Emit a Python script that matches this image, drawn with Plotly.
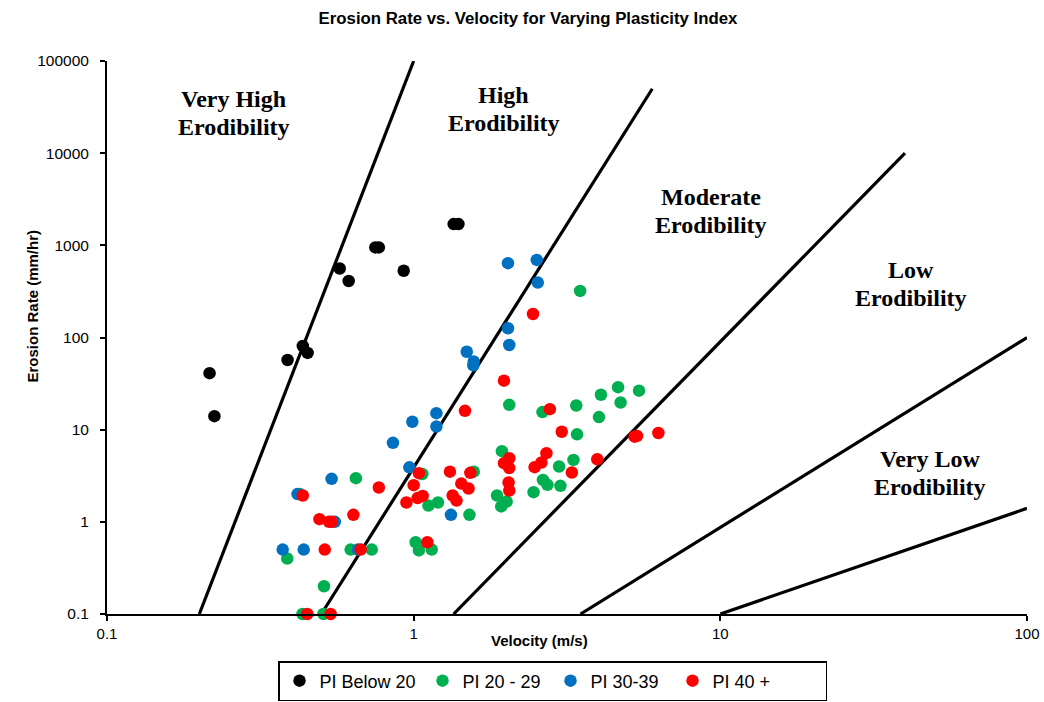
import plotly.graph_objects as go
import math

# ---------------- data ----------------
pi_below20_v = [0.216, 0.224, 0.388, 0.435, 0.451, 0.574, 0.614, 0.928, 0.75, 0.77, 1.35, 1.40]
pi_below20_e = [41, 14, 57, 81, 68, 560, 410, 530, 950, 950, 1700, 1700]

pi_20_29_v = [1.067, 1.57, 0.648, 0.426, 1.117, 1.2, 1.52, 0.387, 0.623, 0.73, 1.015, 1.04,
              1.145, 0.51, 0.434, 0.508, 3.49, 2.05, 2.63, 3.39, 4.08, 4.64, 5.43, 4.73,
              4.02, 3.41, 1.94, 2.98, 3.32, 2.64, 2.73, 3.01, 2.46, 1.87, 1.93, 2.01]
pi_20_29_e = [3.3, 3.5, 2.98, 2.0, 1.5, 1.62, 1.19, 0.40, 0.5, 0.5, 0.6, 0.49,
              0.5, 0.2, 0.1, 0.1, 320, 18.6, 15.5, 18.3, 23.9, 28.9, 26.5, 19.7,
              13.7, 8.9, 5.85, 3.98, 4.7, 2.85, 2.52, 2.46, 2.1, 1.93, 1.47, 1.66]

pi_30_39_v = [1.186, 0.99, 1.186, 0.856, 0.968, 0.54, 0.418, 0.553, 0.374, 0.438, 0.658,
              1.323, 2.05, 1.49, 1.57, 1.565, 2.03, 2.52, 2.54, 2.03]
pi_30_39_e = [15.1, 12.2, 10.8, 7.2, 3.9, 2.93, 2.0, 1.0, 0.5, 0.5, 0.5,
              1.19, 83, 70, 55, 50, 640, 695, 394, 126]

pi_40_v = [1.47, 1.04, 1.313, 1.53, 1.0, 1.43, 1.51, 0.435, 0.77, 0.947, 1.03, 1.07, 1.34,
           1.38, 0.493, 0.541, 0.53, 0.636, 0.513, 0.672, 1.108, 0.45, 0.536, 1.97, 2.78,
           3.04, 5.25, 5.35, 6.28, 2.05, 1.97, 2.05, 2.71, 2.61, 2.48, 3.97, 3.28, 2.04,
           2.05, 2.45]
pi_40_e = [16, 3.37, 3.5, 3.4, 2.5, 2.6, 2.3, 1.93, 2.36, 1.62, 1.81, 1.91, 1.93,
           1.7, 1.07, 1.0, 1.0, 1.19, 0.5, 0.5, 0.6, 0.1, 0.1, 34, 16.7,
           9.5, 8.4, 8.55, 9.2, 4.9, 4.33, 3.83, 5.56, 4.4, 3.92, 4.78, 3.43, 2.67,
           2.19, 180]

series_names = ["PI Below 20", "PI 20 - 29", "PI 30-39", "PI 40 +"]

# erodibility boundary lines: (v_start, e_start) -> (v_end, e_end)
boundary_v0 = [0.2, 0.5, 1.35, 3.5, 10]
boundary_e0 = [0.1, 0.1, 0.1, 0.1, 0.1]
boundary_v1 = [1.0, 6.0, 40, 100, 100]
boundary_e1 = [100000, 50000, 10000, 100, 1.4]

zone_labels = ["Very High<br>Erodibility", "High<br>Erodibility", "Moderate<br>Erodibility",
               "Low<br>Erodibility", "Very Low<br>Erodibility"]
zone_label_v = [0.259, 1.97, 9.3, 41.8, 48.1]
zone_label_e = [27300, 30100, 2360, 381, 3.4]

x_tick_vals = [0.1, 1, 10, 100]
x_tick_text = ["0.1", "1", "10", "100"]
y_tick_vals = [0.1, 1, 10, 100, 1000, 10000, 100000]
y_tick_text = ["0.1", "1", "10", "100", "1000", "10000", "100000"]

# ---------------- styles ----------------
series_colors = ["#000000", "#00B050", "#0070C0", "#FF0000"]
legend_entry_widths = [98, 83, 77, 108]

series_v = [pi_below20_v, pi_20_29_v, pi_30_39_v, pi_40_v]
series_e = [pi_below20_e, pi_20_29_e, pi_30_39_e, pi_40_e]

fig = go.Figure()

for i in range(len(boundary_v0)):
    fig.add_trace(go.Scatter(
        x=[boundary_v0[i], boundary_v1[i]], y=[boundary_e0[i], boundary_e1[i]],
        mode="lines", line=dict(color="black", width=3.2),
        showlegend=False, hoverinfo="skip", cliponaxis=False))

for name, xs, ys, col, lw in zip(series_names, series_v, series_e, series_colors,
                                  legend_entry_widths):
    fig.add_trace(go.Scatter(
        x=xs, y=ys, mode="markers", name=name, legendwidth=lw,
        marker=dict(color=col, size=12.5, line=dict(width=0)),
        cliponaxis=False))

LINE_SPACING = 28
for txt, vx, ey in zip(zone_labels, zone_label_v, zone_label_e):
    lines = txt.split("<br>")
    n = len(lines)
    for k, ln in enumerate(lines):
        fig.add_annotation(x=math.log10(vx), y=math.log10(ey), xref="x", yref="y",
                           text="<b>" + ln + "</b>", showarrow=False,
                           yshift=((n - 1) / 2 - k) * LINE_SPACING,
                           font=dict(family="Liberation Serif", size=24, color="black"))

fig.add_annotation(x=(539 - 107) / 920, y=(614 - 651) / 553, xref="paper", yref="paper",
                   text="<b>Velocity (m/s)</b>", showarrow=False,
                   font=dict(family="Liberation Sans", size=15, color="black"))
fig.add_annotation(x=(21 - 107) / 920, y=(614 - 306) / 553, xref="paper", yref="paper",
                   text="<b>Erosion Rate (mm/hr)</b>", showarrow=False, textangle=-90,
                   font=dict(family="Liberation Sans", size=15, color="black"))

fig.update_layout(
    width=1044, height=702,
    paper_bgcolor="white", plot_bgcolor="white",
    margin=dict(l=107, r=17, t=61, b=88),
    title=dict(text="<b>Erosion Rate vs. Velocity for Varying Plasticity Index</b>",
               x=528 / 1044, xanchor="center", y=1 - 18 / 702, yanchor="middle",
               font=dict(family="Liberation Sans", size=16.8, color="black")),
    font=dict(family="Liberation Sans", color="black"),
    legend=dict(orientation="h", xref="container", yref="container",
                x=278 / 1044, xanchor="left", y=1 - 661 / 702, yanchor="top",
                bordercolor="black", borderwidth=1.5, bgcolor="white",
                font=dict(family="Liberation Sans", size=18, color="black"),
                itemwidth=30),
    showlegend=True,
)

fig.update_xaxes(type="log", range=[-1, 2], showgrid=False, zeroline=False,
                 showline=True, linecolor="black", linewidth=2,
                 ticks="outside", ticklen=5, tickwidth=1.5, tickcolor="black",
                 tickvals=x_tick_vals, ticktext=x_tick_text, automargin=False,
                 tickfont=dict(family="Liberation Sans", size=15, color="black"))
fig.update_yaxes(type="log", range=[-1, 5], showgrid=False, zeroline=False,
                 showline=True, linecolor="black", linewidth=2,
                 ticks="outside", ticklen=5, tickwidth=1.5, tickcolor="black",
                 tickvals=y_tick_vals, ticktext=y_tick_text, automargin=False,
                 ticklabelstandoff=8,
                 tickfont=dict(family="Liberation Sans", size=15.5, color="black"))

fig.write_html("out.html", config={"displayModeBar": False},
               post_script="document.body.style.margin='0';")
